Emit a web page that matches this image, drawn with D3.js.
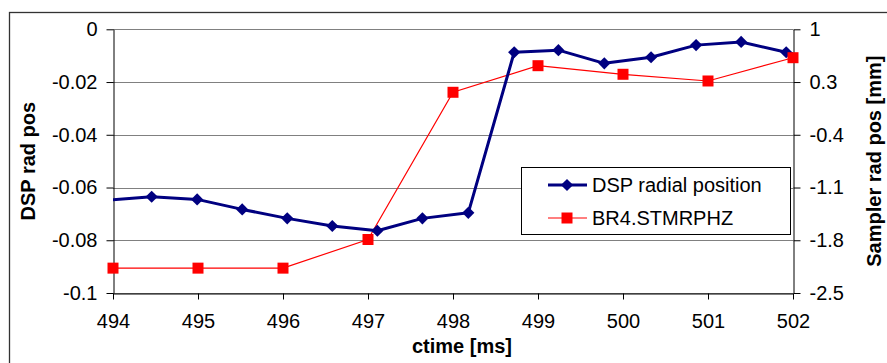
<!DOCTYPE html>
<html>
<head>
<meta charset="utf-8">
<script src="https://cdn.jsdelivr.net/npm/d3@7"></script>
<style>
  html, body { margin: 0; padding: 0; background: #fff; }
  svg { display: block; font-family: Arial, "Liberation Sans", sans-serif; }
</style>
</head>
<body>
<svg id="chart" width="887" height="363"></svg>
<script>
// DSP radial position samples (left axis), time in ms
const dspTime = [493.92, 494.455, 494.99, 495.52, 496.05, 496.58, 497.11, 497.64, 498.18,
                 498.72, 499.24, 499.78, 500.33, 500.86, 501.39, 501.92, 502.45];
const dspPos  = [-0.0648, -0.0635, -0.0645, -0.0683, -0.0717, -0.0746, -0.0764, -0.0717, -0.0696,
                 -0.0087, -0.0079, -0.0129, -0.0106, -0.0060, -0.0048, -0.0087, -0.0128];

// Sampler (BR4.STMRPHZ) readings (right axis, mm)
const samplerTime = [494, 495, 496, 497, 498, 499, 500, 501, 502];
const samplerPos  = [-2.17, -2.17, -2.17, -1.79, 0.164, 0.517, 0.403, 0.314, 0.623];

// Axis ticks
const xTicks = [494, 495, 496, 497, 498, 499, 500, 501, 502];
const leftTicks = [0, -0.02, -0.04, -0.06, -0.08, -0.1];
const rightTicks = [1, 0.3, -0.4, -1.1, -1.8, -2.5];

const seriesNames = ["DSP radial position", "BR4.STMRPHZ"];
const xTitle = "ctime [ms]";
const leftTitle = "DSP rad pos";
const rightTitle = "Sampler rad pos [mm]";

const svg = d3.select("#chart");
const plot = { left: 113, right: 793, top: 29.3, bottom: 293 };

const x = d3.scaleLinear().domain([494, 502]).range([plot.left, plot.right]);
const yL = d3.scaleLinear().domain([-0.1, 0]).range([plot.bottom, plot.top]);
const yR = d3.scaleLinear().domain([-2.5, 1]).range([plot.bottom, plot.top]);

const fmt = v => String(+v.toFixed(4)).replace("\u2212", "-");

// Outer chart frame
svg.append("rect")
  .attr("x", 9.5).attr("y", 12.5)
  .attr("width", 900).attr("height", 400)
  .attr("fill", "none").attr("stroke", "#333").attr("stroke-width", 1.3);

// Horizontal gridlines
svg.append("g")
  .selectAll("line").data(leftTicks).join("line")
  .attr("x1", plot.left).attr("x2", plot.right)
  .attr("y1", d => Math.round(yL(d)) + 0.5).attr("y2", d => Math.round(yL(d)) + 0.5)
  .attr("stroke", "#808080").attr("stroke-width", 1);

// Axes
const axisFont = g => g.selectAll("text")
  .attr("font-size", 20).attr("fill", "#000")
  .attr("font-family", "Arial, 'Liberation Sans', sans-serif");

const gx = svg.append("g")
  .attr("transform", `translate(0,${Math.round(plot.bottom) + 0.5})`)
  .call(d3.axisBottom(x).tickValues(xTicks).tickFormat(fmt).tickSize(6).tickSizeOuter(0).tickPadding(14));
gx.select(".domain").attr("stroke", "#000");
gx.selectAll(".tick line").attr("stroke", "#000");
gx.call(axisFont);

const gl = svg.append("g")
  .attr("transform", `translate(${Math.round(plot.left) + 0.5},0)`)
  .call(d3.axisLeft(yL).tickValues(leftTicks).tickFormat(fmt).tickSize(7).tickSizeOuter(0).tickPadding(9));
gl.select(".domain").attr("stroke", "#000");
gl.selectAll(".tick line").attr("stroke", "#000");
gl.call(axisFont);

const gr = svg.append("g")
  .attr("transform", `translate(${Math.round(plot.right) + 0.5},0)`)
  .call(d3.axisRight(yR).tickValues(rightTicks).tickFormat(fmt).tickSize(7).tickSizeOuter(0).tickPadding(9));
gr.select(".domain").attr("stroke", "#000");
gr.selectAll(".tick line").attr("stroke", "#000");
gr.call(axisFont);

// Axis titles
svg.append("text")
  .attr("x", 462).attr("y", 353)
  .attr("text-anchor", "middle")
  .attr("font-size", 20).attr("font-weight", "bold")
  .text(xTitle);

svg.append("text")
  .attr("transform", `translate(35,${(plot.top + plot.bottom) / 2}) rotate(-90)`)
  .attr("text-anchor", "middle")
  .attr("font-size", 20).attr("font-weight", "bold")
  .text(leftTitle);

svg.append("text")
  .attr("transform", `translate(881,${(plot.top + plot.bottom) / 2}) rotate(-90)`)
  .attr("text-anchor", "middle")
  .attr("font-size", 20).attr("font-weight", "bold")
  .text(rightTitle);

// Clip region for lines that run past the axis range
svg.append("clipPath").attr("id", "plotClip")
  .append("rect")
  .attr("x", plot.left).attr("y", plot.top - 10)
  .attr("width", plot.right - plot.left).attr("height", plot.bottom - plot.top + 20);

const dsp = dspTime.map((t, i) => ({ t, v: dspPos[i] }));
const sampler = samplerTime.map((t, i) => ({ t, v: samplerPos[i] }));

// Sampler series
svg.append("path")
  .datum(sampler)
  .attr("fill", "none").attr("stroke", "#ff0000").attr("stroke-width", 1.2)
  .attr("d", d3.line().x(d => x(d.t)).y(d => yR(d.v)));

// DSP series
svg.append("path")
  .datum(dsp)
  .attr("clip-path", "url(#plotClip)")
  .attr("fill", "none").attr("stroke", "#000080").attr("stroke-width", 3)
  .attr("stroke-linejoin", "round")
  .attr("d", d3.line().x(d => x(d.t)).y(d => yL(d.v)));

const diamond = d3.symbol().type(d3.symbolDiamond2).size(95);
const square = d3.symbol().type(d3.symbolSquare).size(121);

svg.append("g")
  .selectAll("path").data(dsp.filter(d => d.t >= 494 && d.t <= 502)).join("path")
  .attr("transform", d => `translate(${x(d.t)},${yL(d.v)})`)
  .attr("d", diamond)
  .attr("fill", "#000080");

svg.append("g")
  .selectAll("path").data(sampler).join("path")
  .attr("transform", d => `translate(${x(d.t)},${yR(d.v)})`)
  .attr("d", square)
  .attr("fill", "#ff0000");

// Legend
const legend = svg.append("g");
legend.append("rect")
  .attr("x", 521.5).attr("y", 167.5)
  .attr("width", 269).attr("height", 67)
  .attr("fill", "#fff").attr("stroke", "#000").attr("stroke-width", 1);

const entries = [
  { name: seriesNames[0], color: "#000080", width: 3, sym: diamond, y: 185 },
  { name: seriesNames[1], color: "#ff0000", width: 1.2, sym: square, y: 218 }
];
entries.forEach(e => {
  legend.append("line")
    .attr("x1", 548).attr("x2", 587)
    .attr("y1", e.y).attr("y2", e.y)
    .attr("stroke", e.color).attr("stroke-width", e.width);
  legend.append("path")
    .attr("transform", `translate(567,${e.y})`)
    .attr("d", e.sym).attr("fill", e.color);
  legend.append("text")
    .attr("x", 592).attr("y", e.y + 7)
    .attr("font-size", 20)
    .text(e.name);
});
</script>
</body>
</html>
